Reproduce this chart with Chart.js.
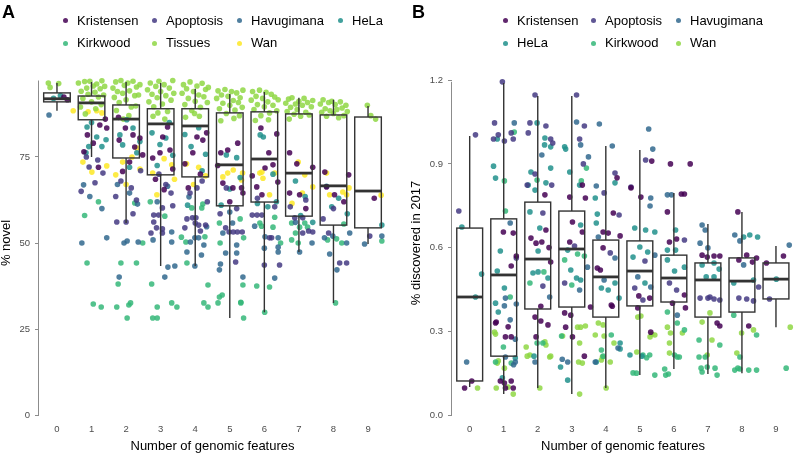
<!DOCTYPE html>
<html>
<head>
<meta charset="utf-8">
<script src="https://cdn.jsdelivr.net/npm/chart.js@4.4.1/dist/chart.umd.min.js"></script>
<style>
  body { margin: 0; background: #fff; font-family: "Liberation Sans", Arial, sans-serif; }
  #wrap { position: relative; width: 798px; height: 454px; overflow: hidden; }
  .panel { position: absolute; top: 0; width: 399px; height: 454px; }
  .tag { position: absolute; top: 2px; font-size: 18px; font-weight: bold; line-height: 20px; }
  .lg { position: absolute; font-size: 13px; line-height: 16px; white-space: nowrap; color: #000; }
  .lg i { position: absolute; width: 5px; height: 5px; border-radius: 50%; top: 5.5px; }
</style>
</head>
<body>
<div id="wrap">
  <div class="panel" id="panelA" style="left:0"><canvas id="chartA" width="399" height="454"></canvas></div>
  <div class="panel" id="panelB" style="left:399px"><canvas id="chartB" width="399" height="454"></canvas></div>
</div>
<script>
// ---- shared ----
const categories = [0, 1, 2, 3, 4, 5, 6, 7, 8, 9];
const aColors = {
  Kristensen: '#440154', Apoptosis: '#443A83', Havugimana: '#31688E', HeLa: '#21908C',
  Kirkwood: '#35B779', Tissues: '#8FD744', Wan: '#FDE725'
};
const bColors = {
  Kristensen: '#440154', Apoptosis: '#443A83', Havugimana: '#31688E', HeLa: '#21908C',
  Kirkwood: '#35B779', Wan: '#8FD744'
};

// ---- panel A: % novel ----
const aSeries = ['Kristensen', 'Apoptosis', 'Havugimana', 'HeLa', 'Kirkwood', 'Tissues', 'Wan'];
const aYTicks = [0, 25, 50, 75];

const aKristensen = [[0.2,92.4],[0.3,91.6],
  [0.88,81.4],[1.24,84.3],[1.44,83.4],[1.05,79.0],[1.4,86.0],[0.78,76.5],[1.2,72.0],
  [2.2,81.4],[2.4,80.5],[1.8,79.9],[2.25,77.9],[1.98,83.4],[2.48,75.6],[1.78,86.5],[2.1,73.5],[1.9,70.8],
  [2.98,76.2],[3.06,80.8],[3.27,77.0],[2.77,74.7],[3.2,83.7],[3.35,71.5],[2.85,68.5],[3.1,65.5],
  [4.05,80.8],[4.22,79.9],[3.93,76.2],[4.33,82.0],[3.7,73.0],[4.15,70.0],[3.8,66.0],
  [4.74,76.2],[5.23,79.0],[4.94,77.0],[4.8,67.4],[5.09,66.0],[5.34,66.0],[5.38,64.5],[4.65,72.5],[5.0,62.0],
  [5.9,83.4],[6.36,81.7],[6.13,76.2],[6.25,72.7],[6.02,71.8],[5.78,66.3],[6.39,67.7],[5.93,64.0],[5.65,69.5],
  [6.73,76.2],[6.94,73.0],[7.4,72.0],[6.73,64.5],[7.02,64.0],[7.2,60.0],
  [7.75,70.6],[8.44,69.8],[7.8,66.3],[8.03,64.0],[8.3,62.0],
  [9.18,63.0]];
const aApoptosis = [
  [0.93,72.1],[0.85,75.0],[1.18,74.1],[1.33,70.3],[1.1,67.5],[0.7,65.0],
  [1.73,56.1],[2.0,56.1],[1.85,68.0],[2.15,66.0],[2.3,62.5],[2.42,71.0],[2.2,58.5],[1.7,63.5],
  [2.72,52.9],[2.8,56.1],[2.8,58.1],[2.94,58.1],[2.88,54.4],[3.05,54.1],[3.05,52.9],[3.05,60.2],[3.35,60.8],[3.15,67.0],[2.95,70.0],[3.3,64.5],
  [3.7,54.4],[3.76,57.0],[4.02,57.3],[4.1,55.2],[3.92,57.3],[4.0,55.8],[4.15,53.5],[4.3,55.2],[3.85,64.5],[4.2,68.0],[4.35,62.0],[4.05,66.0],
  [4.88,54.4],[4.98,53.2],[5.1,53.2],[5.22,53.2],[5.36,53.2],[5.17,44.5],[4.9,66.0],[5.2,60.0],[4.72,58.5],
  [5.65,58.1],[5.79,58.1],[5.93,58.1],[6.15,51.5],[6.21,51.5],[6.0,43.6],[6.44,43.6],[5.8,63.0],[6.3,60.5],
  [6.88,57.3],[7.11,57.3],[7.28,53.5],[7.11,52.9],[7.4,53.2],[6.75,60.5],[7.2,62.5],
  [7.86,52.9],[8.18,44.2],[8.38,44.2],[8.0,60.0],[7.7,57.0],
  [9.05,52.0]];
const aHavugimana = [[-0.23,87.2],
  [0.72,50.0],[0.77,66.9],[1.44,51.5],[1.3,60.0],[0.95,63.5],
  [1.8,40.1],[1.94,50.0],[2.03,50.6],[2.33,61.3],[2.35,50.3],[2.1,64.5],[1.75,67.0],
  [2.78,50.9],[3.12,40.1],[3.21,43.0],[3.32,50.3],[3.32,53.2],[3.41,43.3],[2.9,62.0],[3.2,66.5],
  [3.76,47.4],[3.82,63.4],[3.86,50.3],[3.99,51.5],[4.1,51.5],[4.33,54.7],[4.18,46.5],[3.99,43.3],[4.25,49.4],
  [4.8,52.9],[4.88,47.1],[4.73,43.9],[4.7,42.2],[5.38,40.1],[5.2,49.4],[5.2,47.1],[5.08,55.8],[5.0,59.0],
  [5.72,54.9],[6.02,51.8],[6.4,51.5],[6.4,48.8],[6.4,47.4],[6.0,48.5],[6.3,39.8],
  [7.02,47.4],[7.38,50.0],[6.9,56.0],
  [7.74,51.5],[7.98,52.0],[7.89,46.8],[8.38,50.0],[8.1,42.2],[8.47,52.9],
  [8.9,49.7],[9.4,52.0]];
const aHeLa = [[0.1,92.8],[-0.1,92.0],
  [0.87,83.7],[1.15,80.8],[0.92,78.0],[1.3,78.0],[0.84,76.2],[1.42,80.0],[1.0,85.0],
  [1.82,81.4],[2.02,85.8],[2.2,83.4],[2.31,76.2],[1.9,78.5],[2.4,79.5],[2.1,72.0],
  [2.75,82.0],[2.98,78.6],[3.15,80.5],[3.35,75.5],[2.9,72.5],[3.25,85.0],
  [3.7,81.5],[3.88,78.0],[4.1,83.5],[4.3,75.8],[4.2,71.0],[3.78,61.0],
  [4.9,75.6],[5.2,74.8],[5.0,65.7],[5.3,69.0],[4.75,61.0],
  [5.88,81.4],[5.97,80.8],[6.25,70.0],[5.8,61.5],[6.1,60.5],[6.35,62.0],
  [6.9,68.0],[7.18,63.5],[7.4,56.0],[7.05,58.0],
  [7.95,60.5],[8.15,63.0],[8.4,58.5],[7.8,66.5],
  [9.4,55.2]];
const aKirkwood = [
  [0.87,44.2],[1.05,32.3],[1.28,31.4],[1.2,62.0],[0.8,58.0],
  [1.73,31.4],[1.85,44.2],[1.77,38.1],[2.03,28.2],[2.08,32.0],[2.13,32.6],[2.25,61.6],[2.48,50.0],[2.3,44.2],
  [2.74,38.1],[2.9,31.4],[2.77,28.2],[2.9,28.2],[3.32,32.6],[3.47,31.4],[3.12,57.8],[2.7,62.0],
  [3.73,50.3],[3.76,44.2],[3.9,60.2],[4.19,60.2],[4.28,51.8],[4.22,61.3],[4.25,32.6],[4.37,31.4],[4.37,37.8],[3.6,51.7],
  [4.7,55.8],[4.72,50.0],[5.38,37.8],[4.78,34.9],[4.7,34.3],[4.66,32.6],[5.32,32.8],[5.4,28.2],[5.32,32.6],[5.4,51.5],[5.3,57.0],
  [5.87,55.8],[5.92,54.9],[6.25,54.6],[6.47,50.0],[5.78,37.5],[6.15,37.2],[6.01,29.9],[6.3,57.5],
  [6.79,55.8],[6.79,50.9],[6.9,52.9],[7.02,54.6],[7.17,55.8],[7.25,54.6],[6.98,50.0],
  [7.83,50.9],[8.09,51.2],[8.24,50.0],[8.06,32.6],[8.3,55.5],
  [9.4,50.6]];
const aTissues = [[-0.25,96.5],[-0.2,95.2],[0.05,96.3],
  [0.62,96.5],[0.7,94.1],[0.75,92.0],[0.8,96.9],[0.86,95.0],[0.9,93.2],[0.95,97.0],[1.0,91.0],[1.05,95.6],[1.1,93.8],
  [1.15,96.2],[1.2,92.4],[1.25,94.8],[1.3,97.1],[1.35,93.0],[1.38,95.5],[0.68,89.5],[1.12,89.0],[0.82,87.5],[1.28,90.2],
  [1.62,95.0],[1.66,92.3],[1.7,96.8],[1.75,94.0],[1.8,90.8],[1.85,97.2],[1.9,93.5],[1.95,95.8],[2.0,91.6],[2.05,96.5],
  [2.1,94.2],[2.15,89.5],[2.2,97.0],[2.25,92.8],[2.3,95.3],[2.36,93.0],[1.72,88.5],[2.08,87.0],[1.92,86.0],[2.28,89.8],[2.4,96.0],
  [2.62,94.5],[2.66,91.0],[2.7,96.5],[2.75,93.2],[2.8,89.6],[2.86,95.5],[2.9,92.2],[2.95,97.0],[3.0,94.0],[3.05,90.4],
  [3.1,96.0],[3.15,92.8],[3.2,88.2],[3.25,95.0],[3.3,91.5],[3.35,97.2],[3.38,93.5],[2.78,86.8],[3.12,86.0],[2.92,87.8],
  [3.62,93.5],[3.66,96.0],[3.7,90.2],[3.75,94.8],[3.8,92.0],[3.85,96.8],[3.9,88.5],[3.95,94.0],[4.0,91.2],[4.05,95.6],
  [4.1,93.0],[4.15,89.4],[4.2,96.4],[4.25,92.5],[4.3,94.6],[4.35,90.8],[4.38,95.2],[3.72,86.5],[4.12,86.8],[3.98,87.6],
  [4.62,92.0],[4.66,94.2],[4.7,89.0],[4.76,93.0],[4.8,90.6],[4.86,94.6],[4.9,87.6],[4.95,92.6],[5.0,90.0],[5.05,94.0],
  [5.1,91.4],[5.15,88.6],[5.2,93.6],[5.25,90.8],[5.3,92.2],[5.36,89.4],[5.38,94.4],[4.74,85.5],[5.12,86.2],[5.28,87.0],
  [5.62,91.5],[5.66,94.0],[5.7,88.8],[5.76,92.6],[5.8,90.2],[5.86,94.4],[5.9,87.0],[5.95,92.0],[6.0,89.6],[6.05,93.8],
  [6.1,91.0],[6.15,87.8],[6.2,93.2],[6.25,90.0],[6.3,92.4],[6.36,88.4],[6.4,91.6],[5.74,85.6],[6.12,85.8],
  [6.62,90.6],[6.66,88.2],[6.7,91.8],[6.76,89.4],[6.8,92.2],[6.86,87.4],[6.9,90.4],[6.95,88.8],[7.0,91.2],[7.05,86.8],
  [7.1,90.0],[7.15,92.0],[7.2,88.0],[7.25,90.8],[7.3,87.2],[7.36,89.6],[7.4,91.4],[6.72,86.0],
  [7.62,90.4],[7.66,88.0],[7.7,91.6],[7.76,89.0],[7.8,86.8],[7.86,90.8],[7.9,88.4],[7.95,91.2],[8.0,87.6],[8.05,90.2],
  [8.1,88.8],[8.15,86.4],[8.2,91.0],[8.25,89.2],[8.3,87.0],[8.36,90.0],[8.4,88.2],
  [8.98,90.0],[9.08,87.0],[9.22,86.0]];
const aWan = [[0.47,88.4],
  [0.9,88.1],[1.15,88.4],[1.3,87.8],[1.44,72.4],[1.01,70.6],[0.75,73.5],
  [1.7,69.8],[2.31,77.6],[2.17,75.0],[2.4,71.5],[1.9,73.5],[2.0,67.0],
  [3.32,72.7],[2.77,70.3],[2.89,64.0],[3.1,74.5],[3.4,68.5],
  [3.75,73.0],[4.1,72.0],[4.3,69.5],[3.95,67.0],
  [4.8,69.2],[4.94,70.3],[5.37,70.3],[5.34,68.3],[5.1,71.2],
  [5.87,70.3],[5.93,70.6],[6.3,70.3],[5.96,68.8],[6.15,64.0],
  [6.98,73.5],[7.17,69.8],[7.4,66.3],[7.1,64.5],[6.8,61.5],
  [7.8,70.3],[8.27,64.8],[8.38,64.0],[7.89,64.0],[8.45,66.0],
  [9.38,63.9]];

// box stats per category (whisker low, q1, median, q3, whisker high)
const aLow  = [88.4, 75.0, 55.8, 43.3, 43.3, 28.2, 29.9, 47.4, 32.6, 49.7];
const aQ1   = [91.0, 85.8, 74.7, 69.8, 69.2, 60.8, 61.9, 57.8, 55.2, 54.4];
const aMed  = [91.9, 90.7, 86.0, 84.6, 84.0, 72.7, 74.4, 70.3, 66.6, 65.1];
const aQ3   = [93.6, 92.7, 90.1, 89.0, 89.0, 87.8, 88.1, 87.5, 87.2, 86.6];
const aHigh = [96.5, 96.8, 96.8, 96.5, 94.8, 93.3, 93.9, 92.2, 91.6, 89.8];

// ---- panel B: % discovered in 2017 ----
const bSeries = ['Kristensen', 'Apoptosis', 'Havugimana', 'HeLa', 'Kirkwood', 'Wan'];
const bYTicks = [0, 0.3, 0.6, 0.9, 1.2];

const bKristensen = [[-0.15,0.097],[0.06,0.122],
  [0.99,0.656],[1.28,0.652],[1.37,0.570],[1.22,0.534],[0.78,0.333],[1.13,0.316],[1.05,0.28],[1.22,0.28],
  [0.9,0.122],[1.02,0.115],[1.05,0.097],[1.22,0.122],[1.28,0.097],[0.76,0.33],
  [2.21,0.789],[2.24,0.663],[1.8,0.634],[1.95,0.616],[2.12,0.62],[2.33,0.6],[2.38,0.548],[2.09,0.39],[1.92,0.351],[2.09,0.337],[2.3,0.323],[1.95,0.28],
  [2.94,0.781],[3.31,0.824],[3.4,0.778],[3.02,0.692],[3.31,0.656],[2.94,0.62],[2.79,0.366],[2.97,0.358],[2.82,0.315],[3.02,0.28],[3.37,0.211],
  [3.92,0.656],[4.07,0.652],[4.22,0.724],[4.42,0.642],[3.92,0.599],[3.84,0.52],[4.16,0.394],[4.19,0.39],[3.55,0.387],[4.33,0.85],[4.74,0.814],[3.75,0.527],
  [5.03,0.781],[4.97,0.427],[5.29,0.419],[4.94,0.384],[5.32,0.297],[5.35,0.91],
  [5.81,0.728],[6.22,0.792],[6.31,0.792],[5.87,0.62],[6.08,0.631],[6.31,0.43],[6.34,0.384],[5.96,0.401],[5.9,0.9],[6.48,0.9],
  [6.83,0.573],[6.98,0.566],[7.18,0.57],[7.35,0.57],[7.27,0.33],[7.35,0.319],
  [7.88,0.728],[7.91,0.556],[8.14,0.573],[8.31,0.548],[8.43,0.563],[8.2,0.319],
  [8.72,0.545],[9.22,0.57]];
const bApoptosis = [[0.17,1.004],[-0.32,0.731],
  [0.73,1.047],[0.7,0.989],[0.84,1.004],[0.96,1.194],[1.02,0.982],[1.22,1.011],[1.28,0.989],[1.37,0.563],
  [1.72,1.011],[1.77,1.047],[1.92,1.147],[2.24,1.036],[2.38,0.989],[2.44,0.975],[1.92,0.864],[2.41,0.824],[1.69,0.824],[2.15,0.724],[2.15,0.462],
  [3.14,1.147],[3.23,0.989],[3.37,1.036],[3.34,0.9],[3.08,0.606],[2.79,0.473],
  [4.27,0.867],[3.95,0.796],[4.39,0.717],[4.13,0.581],
  [5.17,0.914],[4.74,0.817],[5.15,0.552],[4.85,0.455],[5.09,0.412],
  [6.31,0.627],[5.87,0.473],[6.08,0.448],
  [6.77,0.419],[7.0,0.419],[7.06,0.423],[7.18,0.416],[7.35,0.412],
  [7.91,0.419],[8.14,0.416],[8.34,0.409],[8.49,0.459],
  [8.81,0.416]];
const bHavugimana = [[-0.09,0.19],
  [1.31,1.047],[1.19,0.688],[1.05,0.419],[1.37,0.398],[1.02,0.391],[1.19,0.341],[1.34,0.272],[1.05,0.208],[1.34,0.19],[1.29,0.18],
  [2.12,0.932],[2.35,0.423],[1.92,0.19],
  [3.14,1.05],[3.26,0.968],[3.49,0.925],[3.46,0.53],[3.23,0.448],[2.88,0.19],[2.72,0.2],
  [3.81,1.043],[4.19,0.964],[3.72,0.821],[3.78,0.638],[4.27,0.563],[3.95,0.484],[3.69,0.19],[4.36,0.24],
  [5.26,1.025],[5.38,0.953],[5.32,0.778],[5.3,0.749],[5.44,0.573],[4.94,0.495],[5.32,0.459],
  [5.93,0.789],[5.81,0.789],[6.1,0.358],
  [6.83,0.681],[6.92,0.663],[6.77,0.616],[7.0,0.599],
  [7.79,0.645],[7.94,0.624],[8.05,0.538],
  [9.39,0.609]];
const bHeLa = [[-0.23,0.674],[0.35,0.505],[0.17,0.423],
  [0.81,0.989],[0.7,0.892],[0.76,0.849],[0.9,0.588],[0.81,0.516],[1.02,0.455],[0.76,0.401],[0.84,0.369],[0.96,0.133],[1.34,0.204],
  [1.98,1.047],[2.21,0.993],[2.2,0.968],[2.38,0.961],[1.8,0.871],[2.24,0.832],[2.38,0.885],[1.72,0.824],[1.92,0.806],
  [1.77,0.728],[2.06,0.67],[2.01,0.588],[1.86,0.509],[2.01,0.513],[2.3,0.491],[1.89,0.211],
  [2.79,0.961],[2.82,0.953],[2.94,0.871],[3.23,0.824],[3.26,0.681],[2.88,0.591],[2.97,0.52],[3.14,0.491],[3.26,0.484],[2.67,0.172],[2.88,0.125],
  [3.69,0.778],[3.72,0.688],[4.27,0.832],[3.75,0.72],[3.87,0.455],[4.07,0.448],[4.27,0.473],[4.39,0.419],[4.42,0.258],[3.72,0.19],[4.42,0.237],
  [4.85,0.67],[5.17,0.663],[5.44,0.656],[5.0,0.602],[4.8,0.566],[5.23,0.584],[5.15,0.473],[4.71,0.215],[5.06,0.211],
  [6.05,0.663],[5.81,0.591],[6.05,0.591],[5.81,0.556],[6.02,0.516],[6.31,0.53],
  [7.18,0.545],[7.33,0.523],[6.83,0.538],[6.95,0.495],[7.18,0.495],
  [8.05,0.638],[8.23,0.645],[8.46,0.638],[7.76,0.473],[8.34,0.484],
  [9.01,0.487]];
const bKirkwood = [
  [1.31,1.014],[1.02,0.839],[1.05,0.731],[1.19,0.423],[0.99,0.244],[0.76,0.19],[1.22,0.186],
  [1.98,0.842],[2.18,0.513],[1.77,0.473],[1.98,0.258],[2.15,0.258],
  [3.43,0.885],[3.28,0.839],[2.79,0.556],[3.17,0.577],[3.37,0.57],[3.0,0.466],[2.7,0.283],
  [3.87,0.233],[3.92,0.211],[4.16,0.287],
  [4.8,0.151],[5.09,0.215],[5.29,0.215],[4.9,0.15],[5.2,0.205],[5.44,0.143],
  [5.81,0.369],[6.1,0.33],[6.31,0.305],[6.02,0.215],[6.1,0.208],[5.73,0.165],[5.84,0.147],[5.76,0.143],[6.16,0.208],
  [6.74,0.269],[7.35,0.251],[6.74,0.208],[6.92,0.208],[6.83,0.154],[6.98,0.172],[7.27,0.143],[6.8,0.168],[7.21,0.168],
  [7.76,0.358],[8.43,0.287],[7.94,0.208],[7.79,0.161],[7.94,0.165],[8.2,0.161],[8.43,0.161],[7.88,0.168],
  [9.3,0.168]];
const bWan = [[0.23,0.097],
  [0.76,0.29],[0.84,0.194],[0.78,0.097],[0.81,0.186],[1.13,0.1],[1.28,0.075],[1.02,0.168],[0.73,0.297],
  [2.21,0.262],[1.77,0.215],[2.35,0.208],[1.66,0.244],[1.69,0.211],[2.06,0.097],[2.38,0.211],[2.24,0.251],
  [3.26,0.315],[3.4,0.319],[2.73,0.283],[3.23,0.258],[3.31,0.186],[3.2,0.19],[3.23,0.075],[3.17,0.315],
  [3.78,0.33],[3.92,0.323],[3.69,0.287],[3.95,0.283],[3.87,0.197],[3.9,0.208],[4.01,0.097],[4.13,0.19],[4.24,0.258],
  [5.03,0.355],[4.94,0.351],[5.44,0.287],[5.35,0.29],[4.91,0.226],[5.3,0.28],
  [5.81,0.315],[5.9,0.294],[6.25,0.294],[5.87,0.258],[5.87,0.222],
  [6.83,0.333],[7.06,0.366],[6.98,0.215],[7.12,0.269],
  [8.34,0.305],[7.99,0.294],[7.85,0.222],
  [9.42,0.315]];

const bLow  = [0.100, 0.075, 0.097, 0.075, 0.097, 0.143, 0.165, 0.147, 0.150, 0.315];
const bQ1   = [0.122, 0.211, 0.380, 0.387, 0.351, 0.391, 0.405, 0.351, 0.369, 0.416];
const bMed  = [0.423, 0.502, 0.559, 0.595, 0.495, 0.516, 0.491, 0.484, 0.480, 0.487];
const bQ3   = [0.670, 0.703, 0.763, 0.731, 0.627, 0.624, 0.573, 0.545, 0.563, 0.545];
const bHigh = [1.000, 1.190, 1.143, 1.143, 0.964, 0.950, 0.796, 0.685, 0.728, 0.606];

// ---- drawing ----
const FONT = '"Liberation Sans", Arial, sans-serif';

// boxplots on top of the jittered points
const boxPlugin = {
  id: 'boxes',
  afterDatasetsDraw(chart, args, o) {
    const { ctx, scales: { x, y } } = chart;
    ctx.save();
    ctx.strokeStyle = '#333333';
    categories.forEach((c, i) => {
      const l = x.getPixelForValue(c - o.half);
      const r = x.getPixelForValue(c + o.half);
      const m = x.getPixelForValue(c);
      const pLo = y.getPixelForValue(o.low[i]), pQ1 = y.getPixelForValue(o.q1[i]);
      const pMed = y.getPixelForValue(o.med[i]), pQ3 = y.getPixelForValue(o.q3[i]);
      const pHi = y.getPixelForValue(o.high[i]);
      ctx.lineWidth = 1.4;
      ctx.beginPath();
      ctx.moveTo(m, pHi); ctx.lineTo(m, pQ3);
      ctx.moveTo(m, pQ1); ctx.lineTo(m, pLo);
      ctx.stroke();
      ctx.strokeRect(l, pQ3, r - l, pQ1 - pQ3);
      ctx.lineWidth = 2.8;
      ctx.beginPath();
      ctx.moveTo(l, pMed); ctx.lineTo(r, pMed);
      ctx.stroke();
    });
    ctx.restore();
  }
};

// y axis line that only spans 0 .. data max
const capAxisPlugin = {
  id: 'capAxis',
  afterDraw(chart) {
    const { ctx, chartArea, scales: { y } } = chart;
    let top = 0;
    chart.data.datasets.forEach(ds => ds.data.forEach(p => { if (p[1] > top) top = p[1]; }));
    ctx.save();
    ctx.strokeStyle = '#8c8c8c';
    ctx.lineWidth = 1;
    ctx.beginPath();
    ctx.moveTo(chartArea.left - 0.5, y.getPixelForValue(0));
    ctx.lineTo(chartArea.left - 0.5, y.getPixelForValue(top));
    ctx.stroke();
    ctx.restore();
  }
};

function makeDatasets(names, lists, colors) {
  return names.map((n, i) => ({
    label: n,
    data: lists[i],
    backgroundColor: colors[n] + 'D9',
    pointRadius: 2.8,
    pointBorderWidth: 0,
    clip: false
  }));
}

function makeChart(id, cfg) {
  return new Chart(document.getElementById(id), {
    type: 'scatter',
    data: { datasets: makeDatasets(cfg.names, cfg.lists, cfg.colors) },
    options: {
      responsive: false,
      animation: false,
      devicePixelRatio: 1,
      layout: { padding: { top: 64, right: cfg.padRight, left: 0, bottom: 0 } },
      plugins: {
        legend: { display: false },
        tooltip: { enabled: false },
        boxes: cfg.box
      },
      scales: {
        x: {
          type: 'linear', min: cfg.xMin, max: cfg.xMax,
          grid: { display: false, drawTicks: false },
          border: { display: false },
          afterBuildTicks: s => { s.ticks = categories.map(v => ({ value: v })); },
          afterFit: s => { s.height = 32; },
          ticks: { padding: 2, color: '#4d4d4d', font: { size: 9.5, family: FONT } },
          title: { display: true, text: 'Number of genomic features', color: '#000',
                   font: { size: 13, family: FONT, lineHeight: 1 }, padding: { top: 0, bottom: 1 } }
        },
        y: {
          type: 'linear', min: cfg.yMin, max: cfg.yMax,
          grid: { drawOnChartArea: false, drawTicks: true, tickLength: 4, color: '#8c8c8c' },
          border: { display: false },
          afterBuildTicks: s => { s.ticks = cfg.yTicks.map(v => ({ value: v })); },
          afterFit: s => { s.width = cfg.yWidth; },
          ticks: { padding: 5, color: '#4d4d4d', font: { size: 9.5, family: FONT }, callback: cfg.fmt },
          title: { display: true, text: cfg.yTitle, color: '#000',
                   font: { size: 13, family: FONT, lineHeight: 1 }, padding: { top: cfg.yTitlePad, bottom: 0 } }
        }
      }
    },
    plugins: [boxPlugin, capAxisPlugin]
  });
}

makeChart('chartA', {
  names: aSeries, colors: aColors,
  lists: [aKristensen, aApoptosis, aHavugimana, aHeLa, aKirkwood, aTissues, aWan],
  xMin: -0.52, xMax: 9.52, yMin: -2, yMax: 102, yTicks: aYTicks, yWidth: 39, padRight: 13,
  yTitle: '% novel', yTitlePad: 0, fmt: v => String(v),
  box: { half: 0.385, low: aLow, q1: aQ1, med: aMed, q3: aQ3, high: aHigh }
});

makeChart('chartB', {
  names: bSeries, colors: bColors,
  lists: [bKristensen, bApoptosis, bHavugimana, bHeLa, bKirkwood, bWan],
  xMin: -0.52, xMax: 9.53, yMin: -0.025, yMax: 1.258, yTicks: bYTicks, yWidth: 53, padRight: 0,
  yTitle: '% discovered in 2017', yTitlePad: 11, fmt: v => v.toFixed(1),
  box: { half: 0.38, low: bLow, q1: bQ1, med: bMed, q3: bQ3, high: bHigh }
});

// ---- legends + panel tags ----
function addLegend(panelId, tag, names, colors, colX, rows) {
  const panel = document.getElementById(panelId);
  const t = document.createElement('div');
  t.className = 'tag';
  t.style.left = tag.x + 'px';
  t.textContent = tag.text;
  panel.appendChild(t);
  names.forEach((n, i) => {
    const col = i % colX.length, row = Math.floor(i / colX.length);
    const d = document.createElement('div');
    d.className = 'lg';
    d.style.left = (colX[col] + 12) + 'px';
    d.style.top = rows[row] + 'px';
    d.innerHTML = '<i style="left:-14.5px;background:' + colors[n] + 'D9"></i>' + n;
    panel.appendChild(d);
  });
}

addLegend('panelA', { text: 'A', x: 2 }, aSeries, aColors, [65, 154, 239, 340], [12.6, 35]);
addLegend('panelB', { text: 'B', x: 13 }, bSeries, bColors, [106, 194, 279], [12.6, 35]);
</script>
</body>
</html>
